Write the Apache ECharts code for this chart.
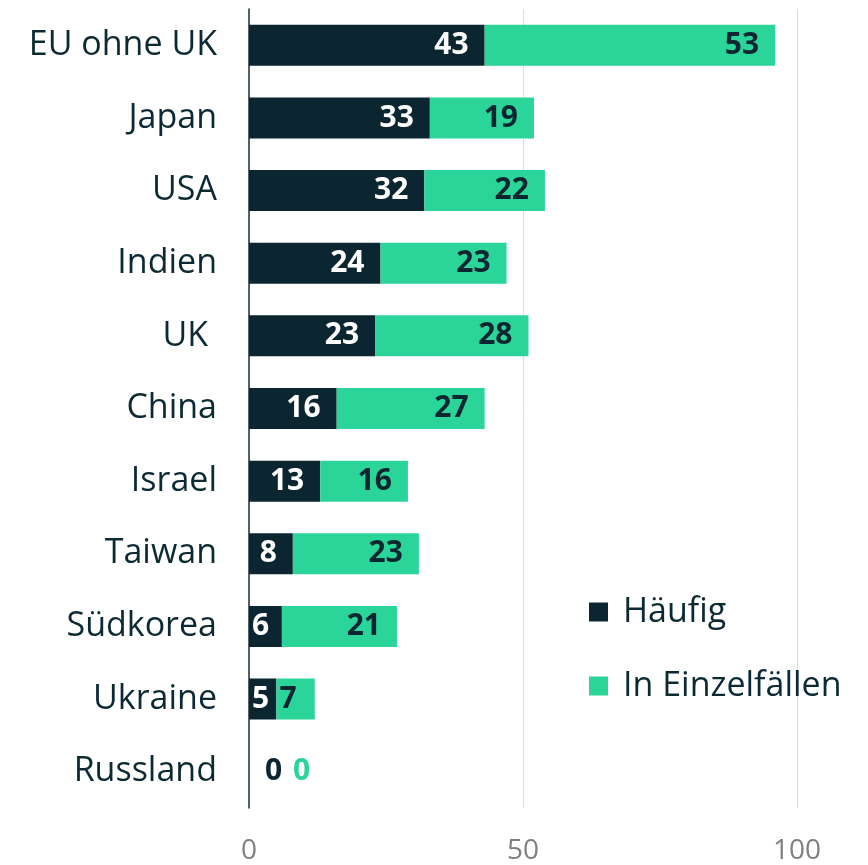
<!DOCTYPE html>
<html>
<head>
<meta charset="utf-8">
<script src="https://cdn.jsdelivr.net/npm/echarts@6/dist/echarts.min.js"></script>
<style>
    html, body { margin: 0; padding: 0; background: #fff; }
    #chart { width: 868px; height: 865px; }
</style>
</head>
<body>
<div id="chart"></div>
<script>
    const categories = ['EU ohne UK', 'Japan', 'USA', 'Indien', 'UK ', 'China', 'Israel', 'Taiwan', 'Südkorea', 'Ukraine', 'Russland'];
    const haeufig = [43, 33, 32, 24, 23, 16, 13, 8, 6, 5, 0];
    const einzelfaelle = [53, 19, 22, 23, 28, 27, 16, 23, 21, 7, 0];
    const xTicks = [0, 50, 100];

    const dark = '#0b2630';
    const green = '#2bd498';
    const font = 'Open Sans';

    // kleine Werte links in den Balken, Nullen rechts neben die Achse
    function withLabels (values, color, zeroOffset) {
        return values.map(v => {
            if (v === 0) {
                return { value: v, label: { position: 'right', distance: 16, offset: [zeroOffset, 0], color: color } };
            }
            if (v <= 7) {
                return { value: v, label: { position: 'insideLeft', distance: 3 } };
            }
            return v;
        });
    }

    const chart = echarts.init(document.getElementById('chart'));
    const option = {
        animation: false,
        grid: { left: 249, right: 71, top: 9, bottom: 48 },
        legend: {
            orient: 'vertical',
            left: 589,
            top: 595,
            padding: 0,
            itemWidth: 19,
            itemHeight: 19,
            itemGap: 40,
            icon: 'rect',
            textStyle: { fontFamily: font, fontSize: 34, lineHeight: 34, color: '#0c2a33', padding: [0, 0, 0, 10] },
            data: ['Häufig', 'In Einzelfällen']
        },
        xAxis: {
            type: 'value',
            min: 0,
            max: 100,
            interval: 50,
            axisLine: { show: false },
            axisTick: { show: false },
            splitLine: { lineStyle: { color: '#dcdcdc', width: 1 } },
            axisLabel: {
                fontFamily: font, fontSize: 28, color: '#808080', margin: 29,
                formatter: v => xTicks.includes(v) ? String(v) : ''
            }
        },
        yAxis: {
            type: 'category',
            inverse: true,
            data: categories,
            axisLine: { show: true, lineStyle: { color: '#1a3038', width: 1.5 } },
            axisTick: { show: false },
            axisLabel: { fontFamily: font, fontSize: 34, color: '#0c2a33', margin: 32, padding: [0, 0, 6, 0] }
        },
        series: [
            {
                name: 'Häufig',
                type: 'bar',
                stack: 'total',
                barWidth: 41,
                itemStyle: { color: dark },
                label: {
                    show: true, position: 'insideRight', distance: 16,
                    fontFamily: font, fontSize: 30, fontWeight: 'bold', color: '#ffffff'
                },
                data: withLabels(haeufig, dark, 0)
            },
            {
                name: 'In Einzelfällen',
                type: 'bar',
                stack: 'total',
                barWidth: 41,
                itemStyle: { color: green },
                label: {
                    show: true, position: 'insideRight', distance: 16,
                    fontFamily: font, fontSize: 30, fontWeight: 'bold', color: dark
                },
                data: withLabels(einzelfaelle, green, 28)
            }
        ]
    };
    chart.setOption(option);
</script>
</body>
</html>
